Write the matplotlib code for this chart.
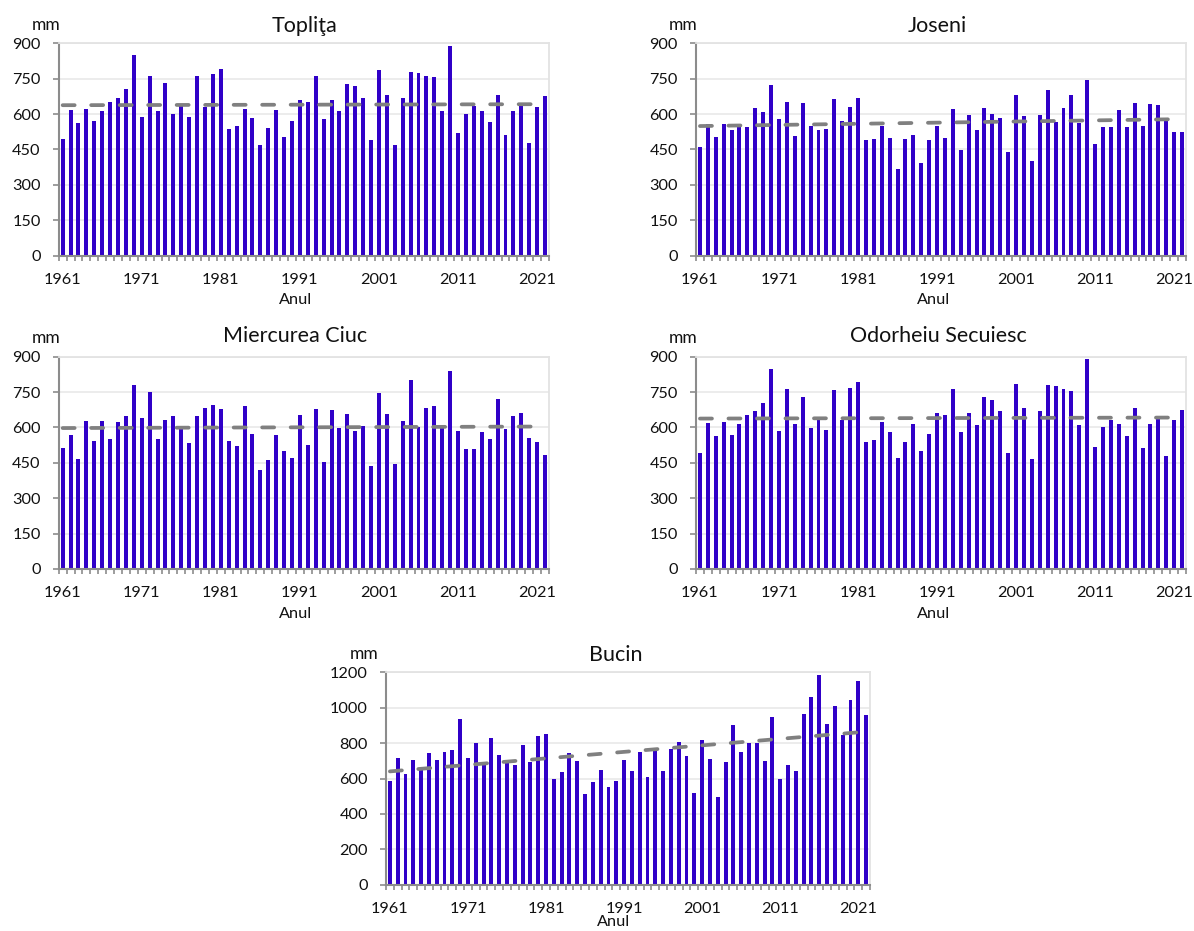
import numpy as np
import matplotlib
matplotlib.use("Agg")
import matplotlib.pyplot as plt
from matplotlib.ticker import FixedLocator, NullFormatter

plt.rcParams['font.family'] = ['Lato', 'DejaVu Sans']

# ---------------- data ----------------
years = list(range(1961, 2023))
label_years = list(range(1961, 2022, 10))

toplita = [493, 617, 562, 622, 569, 613, 651, 668, 705, 849,
           586, 763, 613, 730, 599, 640, 588, 760, 632, 769,
           793, 537, 548, 623, 582, 470, 540, 616, 502, 572,
           661, 651, 762, 579, 661, 612, 729, 718, 668, 490,
           786, 681, 468, 668, 778, 776, 762, 756, 612, 889,
           518, 600, 633, 613, 565, 681, 513, 613, 635, 478,
           630, 675]

joseni = [461, 557, 504, 559, 531, 558, 545, 627, 609, 722,
          579, 651, 509, 646, 550, 534, 535, 663, 572, 630,
          667, 489, 496, 551, 500, 367, 496, 510, 391, 489,
          551, 497, 620, 448, 598, 533, 624, 600, 582, 441,
          682, 591, 400, 595, 701, 567, 627, 680, 561, 745,
          472, 545, 544, 619, 544, 647, 551, 641, 639, 579,
          526, 523]

miercurea_ciuc = [511, 569, 468, 629, 543, 626, 550, 622, 650, 780,
                  640, 750, 550, 633, 647, 598, 534, 650, 682, 695,
                  677, 544, 521, 691, 572, 418, 462, 567, 500, 469,
                  654, 524, 680, 453, 672, 598, 656, 583, 606, 437,
                  745, 656, 444, 627, 800, 600, 684, 692, 610, 839,
                  583, 510, 510, 582, 551, 722, 595, 647, 663, 554,
                  538, 482]

odorheiu = [493, 617, 562, 622, 569, 613, 651, 668, 705, 849,
            586, 763, 613, 730, 599, 640, 588, 760, 632, 769,
            793, 537, 548, 623, 582, 470, 540, 616, 502, 572,
            661, 651, 762, 579, 661, 612, 729, 718, 668, 490,
            786, 681, 468, 668, 778, 776, 762, 756, 612, 889,
            518, 600, 633, 613, 565, 681, 513, 613, 635, 478,
            630, 675]

bucin = [584, 718, 624, 705, 648, 746, 703, 748, 759, 938,
         714, 801, 695, 831, 735, 686, 674, 791, 693, 840,
         850, 595, 639, 742, 701, 512, 578, 650, 552, 588,
         706, 644, 752, 610, 767, 641, 765, 804, 729, 520,
         820, 712, 497, 693, 904, 750, 801, 800, 697, 946,
         599, 674, 644, 963, 1063, 1183, 908, 1008, 846, 1044,
         1153, 961]

titles = ["Topliţa", "Joseni", "Miercurea Ciuc", "Odorheiu Secuiesc", "Bucin"]
series = [toplita, joseni, miercurea_ciuc, odorheiu, bucin]
y_max = [900, 900, 900, 900, 1200]
y_step = [150, 150, 150, 150, 200]
unit_label = "mm"
x_label = "Anul"

# ---------------- layout (figure pixels) ----------------
W, H = 1194, 931
# left, right, top, bottom of plot areas in px
rects_px = [(58.7, 549, 43.3, 255.7),
            (696, 1186, 43.3, 255.7),
            (58.7, 549, 356.7, 569),
            (696, 1186, 356.7, 569),
            (386, 870, 672.3, 884.7)]
title_dx = [1, -4, -9, -3, -12]       # px offset of title centre from plot centre
title_dy = [11.6, 11.6, 15, 15, 11.6]  # px baseline above plot top
mm_dx = [-13, -13, -13, -13, -22]
mm_dy = [13.3, 13.3, 14, 14, 13]
anul_dx = [-8, -7.5, -8, -7.5, -14]
anul_dy = [48.7, 48.7, 48.5, 48.5, 41.5]

BAR = "#3000C8"
TREND = "#808080"
AXIS = "#8C8C8C"
GRID = "#EBEBEB"
TXT = "#111111"
PX = 72 / 100.0  # points per pixel

fig = plt.figure(figsize=(W / 100, H / 100), dpi=100)

for i in range(5):
    l, r, t, b = rects_px[i]
    ax = fig.add_axes([l / W, 1 - b / H, (r - l) / W, (b - t) / H])
    vals = series[i]
    ax.bar(years, vals, width=0.5, color=BAR, zorder=2)
    coef = np.polyfit(years, vals, 1)
    xs = np.array([years[0], years[-1]], dtype=float)
    ax.plot(xs, np.polyval(coef, xs), color=TREND, lw=2.7,
            dashes=(3.2, 4.4), dash_capstyle='round', zorder=3)

    ax.set_xlim(years[0] - 0.5, years[-1] + 0.5)
    ax.set_ylim(0, y_max[i])
    ax.set_yticks(np.arange(0, y_max[i] + 1, y_step[i]))
    ax.yaxis.grid(True, color=GRID, lw=1.3, zorder=0)
    ax.set_axisbelow(True)

    ax.xaxis.set_major_locator(FixedLocator(label_years))
    ax.set_xticklabels([str(y) for y in label_years])
    ax.xaxis.set_minor_locator(FixedLocator(np.arange(years[0] - 0.5, years[-1] + 1, 1.0)))
    ax.xaxis.set_minor_formatter(NullFormatter())
    ax.tick_params(axis='x', which='major', length=0, pad=12.3, labelsize=11.7, labelcolor=TXT)
    ax.tick_params(axis='x', which='minor', length=5 * PX, width=1.2, color=AXIS, direction='out')
    ax.tick_params(axis='y', which='major', length=6 * PX, width=1.2, color=AXIS, direction='out',
                   pad=12 * PX, labelsize=11.7, labelcolor=TXT)

    for s in ('left', 'bottom'):
        ax.spines[s].set_color(AXIS)
        ax.spines[s].set_linewidth(1.5)
    for s in ('top', 'right'):
        ax.spines[s].set_color("#E3E3E3")
        ax.spines[s].set_linewidth(1.3)

    ax.annotate(titles[i], xy=(0.5, 1), xycoords='axes fraction',
                xytext=(title_dx[i] * PX, title_dy[i] * PX), textcoords='offset points',
                ha='center', va='baseline', fontsize=15.5, color=TXT)
    ax.annotate(unit_label, xy=(0, 1), xycoords='axes fraction',
                xytext=(mm_dx[i] * PX, mm_dy[i] * PX), textcoords='offset points',
                ha='center', va='baseline', fontsize=12.5, color=TXT)
    ax.annotate(x_label, xy=(0.5, 0), xycoords='axes fraction',
                xytext=(anul_dx[i] * PX, -anul_dy[i] * PX), textcoords='offset points',
                ha='center', va='baseline', fontsize=11.7, color=TXT, annotation_clip=False)

fig.savefig("out.png", dpi=100, facecolor="white")
